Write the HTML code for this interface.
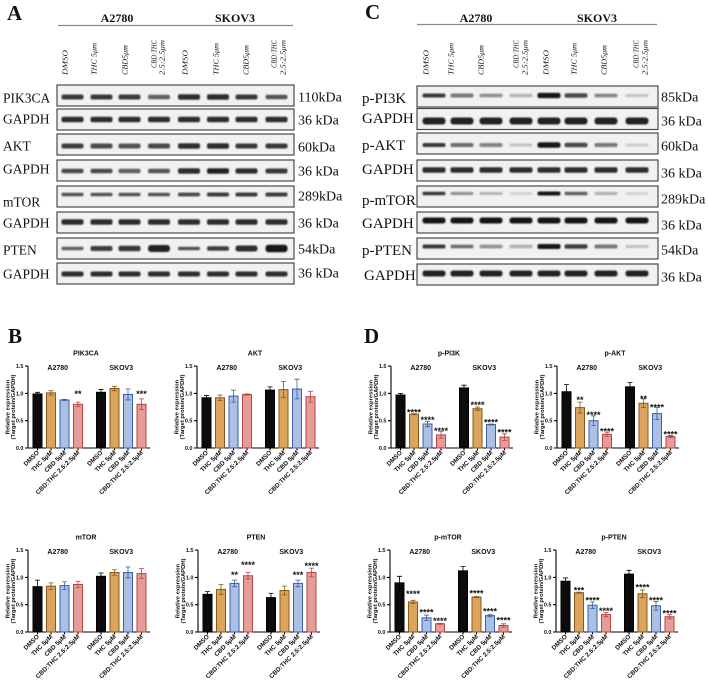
<!DOCTYPE html>
<html><head><meta charset="utf-8">
<style>
html,body{margin:0;padding:0;background:#fff}
svg{display:block}
svg text{font-family:"Liberation Sans",Arial,sans-serif;fill:#111}
.pl{font-family:"Liberation Serif",serif !important;font-weight:bold;font-size:21px}
.hd{font-family:"Liberation Serif",serif !important;font-weight:bold;font-size:12px;text-anchor:middle}
.lb{font-family:"Liberation Serif",serif !important;font-size:13.5px}
.lc{font-family:"Liberation Serif",serif !important;font-size:15px}
.kd{font-family:"Liberation Serif",serif !important;font-size:14px}
.ln{font-family:"Liberation Serif",serif !important;font-style:italic;font-size:7px}
.lne{font-family:"Liberation Serif",serif !important;font-style:italic;font-size:7px;text-anchor:end}
.t{font-size:7px;font-weight:bold;text-anchor:middle}
.tk{font-size:5.5px;font-weight:bold;text-anchor:end}
.xl{font-size:6.3px;font-weight:bold;text-anchor:end}
.yl{font-size:5.8px;font-weight:bold;text-anchor:middle}
.st{font-size:9px;font-weight:bold;text-anchor:middle}
.ax{stroke:#000;stroke-width:1.1;fill:none}
.k{fill:#0c0c0c;stroke:#000;stroke-width:1}
.o{fill:#dba45c;stroke:#8a581c;stroke-width:1}
.b{fill:#abc0e4;stroke:#3b5fa2;stroke-width:1}
.r{fill:#e69d9a;stroke:#b84442;stroke-width:1}
.ek{stroke:#000;fill:none;stroke-width:.8}
.eo{stroke:#8a581c;fill:none;stroke-width:.8}
.eb{stroke:#3b5fa2;fill:none;stroke-width:.8}
.er{stroke:#b84442;fill:none;stroke-width:.8}
.box{fill:#f1f1f1;stroke:none}
.bxs{fill:none;stroke:#4a4a4a;stroke-width:1.2}
</style></head>
<body>
<svg width="708" height="683" viewBox="0 0 708 683" xmlns="http://www.w3.org/2000/svg">
<defs>
<filter id="bl" x="-20%" y="-100%" width="140%" height="300%"><feGaussianBlur stdDeviation="0.9"/></filter>
</defs>

<!-- ===== Panel A ===== -->
<text class="pl" x="7" y="20">A</text>
<text class="hd" x="117" y="22">A2780</text>
<text class="hd" x="235" y="22">SKOV3</text>
<path d="M58,25.5H293" stroke="#888" stroke-width="1.2"/>
<text class="ln" transform="translate(67.5,75) rotate(-90)" textLength="25" lengthAdjust="spacingAndGlyphs">DMSO</text>
<text class="ln" transform="translate(96.5,75) rotate(-90)" textLength="32" lengthAdjust="spacingAndGlyphs">THC 5μm</text>
<text class="ln" transform="translate(127.5,75) rotate(-90)" textLength="30" lengthAdjust="spacingAndGlyphs">CBD5μm</text>
<text class="lne" transform="translate(156.5,40) rotate(-90)" textLength="28" lengthAdjust="spacingAndGlyphs">CBD:THC</text>
<text class="lne" transform="translate(164.5,40) rotate(-90)" textLength="35" lengthAdjust="spacingAndGlyphs">2.5:2.5μm</text>
<text class="ln" transform="translate(187.5,75) rotate(-90)" textLength="25" lengthAdjust="spacingAndGlyphs">DMSO</text>
<text class="ln" transform="translate(218.5,75) rotate(-90)" textLength="32" lengthAdjust="spacingAndGlyphs">THC 5μm</text>
<text class="ln" transform="translate(248.5,75) rotate(-90)" textLength="30" lengthAdjust="spacingAndGlyphs">CBD5μm</text>
<text class="lne" transform="translate(276.5,40) rotate(-90)" textLength="28" lengthAdjust="spacingAndGlyphs">CBD:THC</text>
<text class="lne" transform="translate(285.5,40) rotate(-90)" textLength="35" lengthAdjust="spacingAndGlyphs">2.5:2.5μm</text>

<g class="box">
<rect x="57" y="85" width="237" height="21"/><rect x="57" y="109" width="237" height="21"/>
<rect x="57" y="134" width="237" height="21"/><rect x="57" y="160" width="237" height="21"/>
<rect x="57" y="186" width="237" height="21"/><rect x="57" y="212" width="237" height="21"/>
<rect x="57" y="238" width="237" height="21"/><rect x="57" y="263" width="237" height="21"/>
</g>
<g filter="url(#bl)" fill="#141414">
<g transform="translate(0,97)">
<rect x="61.5" y="-2.5" width="22" height="5" rx="2" opacity=".85"/><rect x="90.5" y="-2.5" width="22" height="5" rx="2" opacity=".85"/><rect x="118.5" y="-2.5" width="22" height="5" rx="2" opacity=".8"/><rect x="148" y="-2.3" width="22" height="4.6" rx="2" opacity=".65"/><rect x="178" y="-2.7" width="22" height="5.4" rx="2" opacity=".9"/><rect x="207" y="-2.7" width="22" height="5.4" rx="2" opacity=".9"/><rect x="235.5" y="-2.5" width="22" height="5" rx="2" opacity=".85"/><rect x="265.5" y="-2.2" width="22" height="4.4" rx="2" opacity=".7"/>
</g>
<g transform="translate(0,119.5)">
<rect x="61.5" y="-2.8" width="22" height="5.6" rx="2" opacity=".9"/><rect x="90.5" y="-2.8" width="22" height="5.6" rx="2" opacity=".9"/><rect x="118.5" y="-2.8" width="22" height="5.6" rx="2" opacity=".9"/><rect x="148" y="-2.8" width="22" height="5.6" rx="2" opacity=".9"/><rect x="178" y="-2.8" width="22" height="5.6" rx="2" opacity=".9"/><rect x="207" y="-2.8" width="22" height="5.6" rx="2" opacity=".9"/><rect x="235.5" y="-2.8" width="22" height="5.6" rx="2" opacity=".9"/><rect x="265.5" y="-2.8" width="22" height="5.6" rx="2" opacity=".9"/>
</g>
<g transform="translate(0,146)">
<rect x="61.5" y="-2.5" width="22" height="5" rx="2" opacity=".8"/><rect x="90.5" y="-2.5" width="22" height="5" rx="2" opacity=".75"/><rect x="118.5" y="-2.5" width="22" height="5" rx="2" opacity=".7"/><rect x="148" y="-2.5" width="22" height="5" rx="2" opacity=".75"/><rect x="178" y="-2.7" width="22" height="5.4" rx="2" opacity=".9"/><rect x="207" y="-2.7" width="22" height="5.4" rx="2" opacity=".9"/><rect x="235.5" y="-2.5" width="22" height="5" rx="2" opacity=".85"/><rect x="265.5" y="-2.5" width="22" height="5" rx="2" opacity=".85"/>
</g>
<g transform="translate(0,171)">
<rect x="61.5" y="-2.3" width="22" height="4.6" rx="2" opacity=".75"/><rect x="90.5" y="-2.3" width="22" height="4.6" rx="2" opacity=".75"/><rect x="118.5" y="-2.2" width="22" height="4.4" rx="2" opacity=".65"/><rect x="148" y="-2.3" width="22" height="4.6" rx="2" opacity=".7"/><rect x="178" y="-2.8" width="22" height="5.6" rx="2" opacity=".9"/><rect x="207" y="-2.8" width="22" height="5.6" rx="2" opacity=".95"/><rect x="235.5" y="-2.6" width="22" height="5.2" rx="2" opacity=".9"/><rect x="265.5" y="-2.5" width="22" height="5" rx="2" opacity=".85"/>
</g>
<g transform="translate(0,194.5)">
<rect x="61.5" y="-1.8" width="22" height="3.6" rx="1.5" opacity=".7"/><rect x="90.5" y="-1.8" width="22" height="3.6" rx="1.5" opacity=".7"/><rect x="118.5" y="-1.8" width="22" height="3.6" rx="1.5" opacity=".7"/><rect x="148" y="-1.8" width="22" height="3.6" rx="1.5" opacity=".7"/><rect x="178" y="-1.9" width="22" height="3.8" rx="1.5" opacity=".75"/><rect x="207" y="-2" width="22" height="4" rx="1.5" opacity=".8"/><rect x="235.5" y="-2" width="22" height="4" rx="1.5" opacity=".8"/><rect x="265.5" y="-2" width="22" height="4" rx="1.5" opacity=".8"/>
</g>
<g transform="translate(0,222)">
<rect x="61.5" y="-2.8" width="22" height="5.6" rx="2" opacity=".9"/><rect x="90.5" y="-2.8" width="22" height="5.6" rx="2" opacity=".9"/><rect x="118.5" y="-2.8" width="22" height="5.6" rx="2" opacity=".9"/><rect x="148" y="-2.8" width="22" height="5.6" rx="2" opacity=".9"/><rect x="178" y="-2.8" width="22" height="5.6" rx="2" opacity=".9"/><rect x="207" y="-2.8" width="22" height="5.6" rx="2" opacity=".9"/><rect x="235.5" y="-2.8" width="22" height="5.6" rx="2" opacity=".9"/><rect x="265.5" y="-2.8" width="22" height="5.6" rx="2" opacity=".9"/>
</g>
<g transform="translate(0,248.5)">
<rect x="61.5" y="-1.8" width="22" height="3.6" rx="1.5" opacity=".65"/><rect x="90.5" y="-2.5" width="22" height="5" rx="2" opacity=".8"/><rect x="118.5" y="-2.8" width="22" height="5.6" rx="2" opacity=".85"/><rect x="148" y="-3.5" width="22" height="7" rx="3" opacity=".95"/><rect x="178" y="-1.8" width="22" height="3.6" rx="1.5" opacity=".7"/><rect x="207" y="-2.3" width="22" height="4.6" rx="2" opacity=".8"/><rect x="235.5" y="-3" width="22" height="6" rx="2.5" opacity=".9"/><rect x="265.5" y="-3.8" width="22" height="7.6" rx="3" opacity="1"/>
</g>
<g transform="translate(0,274)">
<rect x="61.5" y="-2.5" width="22" height="5" rx="2" opacity=".9"/><rect x="90.5" y="-2.5" width="22" height="5" rx="2" opacity=".9"/><rect x="118.5" y="-2.5" width="22" height="5" rx="2" opacity=".9"/><rect x="148" y="-2.5" width="22" height="5" rx="2" opacity=".9"/><rect x="178" y="-2.5" width="22" height="5" rx="2" opacity=".9"/><rect x="207" y="-2.5" width="22" height="5" rx="2" opacity=".9"/><rect x="235.5" y="-2.5" width="22" height="5" rx="2" opacity=".9"/><rect x="265.5" y="-2.5" width="22" height="5" rx="2" opacity=".9"/>
</g>
</g>
<g class="bxs">
<rect x="57" y="85" width="237" height="21"/><rect x="57" y="109" width="237" height="21"/>
<rect x="57" y="134" width="237" height="21"/><rect x="57" y="160" width="237" height="21"/>
<rect x="57" y="186" width="237" height="21"/><rect x="57" y="212" width="237" height="21"/>
<rect x="57" y="238" width="237" height="21"/><rect x="57" y="263" width="237" height="21"/>
</g>
<text class="lb" x="3" y="102.5">PIK3CA</text>
<text class="lb" x="3" y="123.5">GAPDH</text>
<text class="lb" x="3" y="150.5">AKT</text>
<text class="lb" x="3" y="173.5">GAPDH</text>
<text class="lb" x="3" y="206.5">mTOR</text>
<text class="lb" x="3" y="227.5">GAPDH</text>
<text class="lb" x="3" y="254.5">PTEN</text>
<text class="lb" x="3" y="278.5">GAPDH</text>
<text class="kd" x="298" y="101.5">110kDa</text>
<text class="kd" x="298" y="124.5">36 kDa</text>
<text class="kd" x="298" y="151.5">60kDa</text>
<text class="kd" x="298" y="175.5">36 kDa</text>
<text class="kd" x="298" y="200.5">289kDa</text>
<text class="kd" x="298" y="227.5">36 kDa</text>
<text class="kd" x="298" y="253.5">54kDa</text>
<text class="kd" x="298" y="277.5">36 kDa</text>

<!-- ===== Panel C ===== -->
<text class="pl" x="365" y="19">C</text>
<text class="hd" x="476" y="22">A2780</text>
<text class="hd" x="597" y="22">SKOV3</text>
<path d="M417,24.5H657" stroke="#888" stroke-width="1.2"/>
<text class="ln" transform="translate(428.5,75) rotate(-90)" textLength="25" lengthAdjust="spacingAndGlyphs">DMSO</text>
<text class="ln" transform="translate(453.5,75) rotate(-90)" textLength="32" lengthAdjust="spacingAndGlyphs">THC 5μm</text>
<text class="ln" transform="translate(483.5,75) rotate(-90)" textLength="30" lengthAdjust="spacingAndGlyphs">CBD5μm</text>
<text class="lne" transform="translate(518.5,40) rotate(-90)" textLength="28" lengthAdjust="spacingAndGlyphs">CBD:THC</text>
<text class="lne" transform="translate(527.5,40) rotate(-90)" textLength="35" lengthAdjust="spacingAndGlyphs">2.5:2.5μm</text>
<text class="ln" transform="translate(548.5,75) rotate(-90)" textLength="25" lengthAdjust="spacingAndGlyphs">DMSO</text>
<text class="ln" transform="translate(576.5,75) rotate(-90)" textLength="32" lengthAdjust="spacingAndGlyphs">THC 5μm</text>
<text class="ln" transform="translate(606.5,75) rotate(-90)" textLength="30" lengthAdjust="spacingAndGlyphs">CBD5μm</text>
<text class="lne" transform="translate(638.5,40) rotate(-90)" textLength="28" lengthAdjust="spacingAndGlyphs">CBD:THC</text>
<text class="lne" transform="translate(647.5,40) rotate(-90)" textLength="35" lengthAdjust="spacingAndGlyphs">2.5:2.5μm</text>

<g class="box">
<rect x="417" y="86" width="241" height="21"/><rect x="417" y="108.5" width="241" height="21"/>
<rect x="417" y="133" width="241" height="21"/><rect x="417" y="160" width="241" height="21"/>
<rect x="417" y="186" width="241" height="21"/><rect x="417" y="212" width="241" height="21"/>
<rect x="417" y="238" width="241" height="21"/><rect x="417" y="264" width="241" height="21"/>
</g>
<g filter="url(#bl)" fill="#141414">
<g transform="translate(0,95.5)">
<rect x="422.5" y="-2" width="23" height="4" rx="1.8" opacity=".85"/><rect x="450.5" y="-2" width="23" height="4" rx="1.8" opacity=".55"/><rect x="479.5" y="-1.8" width="23" height="3.6" rx="1.5" opacity=".45"/><rect x="509.5" y="-1.8" width="23" height="3.6" rx="1.5" opacity=".25"/><rect x="537.5" y="-2.6" width="23" height="5.2" rx="2" opacity="1"/><rect x="564.5" y="-2.3" width="23" height="4.6" rx="2" opacity=".75"/><rect x="594.5" y="-1.8" width="23" height="3.6" rx="1.5" opacity=".5"/><rect x="625.5" y="-1.5" width="23" height="3" rx="1.5" opacity=".2"/>
</g>
<g transform="translate(0,121)">
<rect x="422.5" y="-3.5" width="23" height="7" rx="3" opacity=".95"/><rect x="450.5" y="-3.5" width="23" height="7" rx="3" opacity=".95"/><rect x="479.5" y="-3.5" width="23" height="7" rx="3" opacity=".95"/><rect x="509.5" y="-3.5" width="23" height="7" rx="3" opacity=".95"/><rect x="537.5" y="-3.5" width="23" height="7" rx="3" opacity=".95"/><rect x="564.5" y="-3.5" width="23" height="7" rx="3" opacity=".95"/><rect x="594.5" y="-3.5" width="23" height="7" rx="3" opacity=".95"/><rect x="625.5" y="-3.5" width="23" height="7" rx="3" opacity=".95"/>
</g>
<g transform="translate(0,145)">
<rect x="422.5" y="-2" width="23" height="4" rx="1.8" opacity=".85"/><rect x="450.5" y="-2" width="23" height="4" rx="1.8" opacity=".6"/><rect x="479.5" y="-2" width="23" height="4" rx="1.8" opacity=".5"/><rect x="509.5" y="-1.5" width="23" height="3" rx="1.5" opacity=".2"/><rect x="537.5" y="-2.8" width="23" height="5.6" rx="2.2" opacity="1"/><rect x="564.5" y="-2.3" width="23" height="4.6" rx="2" opacity=".75"/><rect x="594.5" y="-2" width="23" height="4" rx="1.8" opacity=".55"/><rect x="625.5" y="-1.5" width="23" height="3" rx="1.5" opacity=".15"/>
</g>
<g transform="translate(0,170)">
<rect x="422.5" y="-2.8" width="23" height="5.6" rx="2" opacity=".9"/><rect x="450.5" y="-2.8" width="23" height="5.6" rx="2" opacity=".9"/><rect x="479.5" y="-2.8" width="23" height="5.6" rx="2" opacity=".9"/><rect x="509.5" y="-2.8" width="23" height="5.6" rx="2" opacity=".9"/><rect x="537.5" y="-2.8" width="23" height="5.6" rx="2" opacity=".9"/><rect x="564.5" y="-2.8" width="23" height="5.6" rx="2" opacity=".9"/><rect x="594.5" y="-2.8" width="23" height="5.6" rx="2" opacity=".9"/><rect x="625.5" y="-2.8" width="23" height="5.6" rx="2" opacity=".9"/>
</g>
<g transform="translate(0,193.5)">
<rect x="422.5" y="-1.8" width="23" height="3.6" rx="1.5" opacity=".85"/><rect x="450.5" y="-1.5" width="23" height="3" rx="1.5" opacity=".45"/><rect x="479.5" y="-1.5" width="23" height="3" rx="1.5" opacity=".25"/><rect x="509.5" y="-1.5" width="23" height="3" rx="1.5" opacity=".12"/><rect x="537.5" y="-2" width="23" height="4" rx="1.8" opacity="1"/><rect x="564.5" y="-1.8" width="23" height="3.6" rx="1.5" opacity=".65"/><rect x="594.5" y="-1.5" width="23" height="3" rx="1.5" opacity=".3"/><rect x="625.5" y="-1.5" width="23" height="3" rx="1.5" opacity=".12"/>
</g>
<g transform="translate(0,220.5)">
<rect x="422.5" y="-3" width="23" height="6" rx="2.5" opacity="1"/><rect x="450.5" y="-3" width="23" height="6" rx="2.5" opacity="1"/><rect x="479.5" y="-3" width="23" height="6" rx="2.5" opacity="1"/><rect x="509.5" y="-3" width="23" height="6" rx="2.5" opacity="1"/><rect x="537.5" y="-3" width="23" height="6" rx="2.5" opacity="1"/><rect x="564.5" y="-3" width="23" height="6" rx="2.5" opacity="1"/><rect x="594.5" y="-3" width="23" height="6" rx="2.5" opacity="1"/><rect x="625.5" y="-3" width="23" height="6" rx="2.5" opacity="1"/>
</g>
<g transform="translate(0,246.5)">
<rect x="422.5" y="-2" width="23" height="4" rx="1.8" opacity=".85"/><rect x="450.5" y="-1.8" width="23" height="3.6" rx="1.5" opacity=".6"/><rect x="479.5" y="-1.8" width="23" height="3.6" rx="1.5" opacity=".45"/><rect x="509.5" y="-1.8" width="23" height="3.6" rx="1.5" opacity=".3"/><rect x="537.5" y="-2.5" width="23" height="5" rx="2" opacity="1"/><rect x="564.5" y="-2.3" width="23" height="4.6" rx="2" opacity=".8"/><rect x="594.5" y="-2" width="23" height="4" rx="1.8" opacity=".55"/><rect x="625.5" y="-1.5" width="23" height="3" rx="1.5" opacity=".2"/>
</g>
<g transform="translate(0,273.5)">
<rect x="422.5" y="-3" width="23" height="6" rx="2.5" opacity=".95"/><rect x="450.5" y="-3" width="23" height="6" rx="2.5" opacity=".95"/><rect x="479.5" y="-3" width="23" height="6" rx="2.5" opacity=".95"/><rect x="509.5" y="-3" width="23" height="6" rx="2.5" opacity=".95"/><rect x="537.5" y="-3" width="23" height="6" rx="2.5" opacity=".95"/><rect x="564.5" y="-3" width="23" height="6" rx="2.5" opacity=".95"/><rect x="594.5" y="-3" width="23" height="6" rx="2.5" opacity=".95"/><rect x="625.5" y="-3" width="23" height="6" rx="2.5" opacity=".95"/>
</g>
</g>
<g class="bxs">
<rect x="417" y="86" width="241" height="21"/><rect x="417" y="108.5" width="241" height="21"/>
<rect x="417" y="133" width="241" height="21"/><rect x="417" y="160" width="241" height="21"/>
<rect x="417" y="186" width="241" height="21"/><rect x="417" y="212" width="241" height="21"/>
<rect x="417" y="238" width="241" height="21"/><rect x="417" y="264" width="241" height="21"/>
</g>
<text class="lc" x="362" y="103">p-PI3K</text>
<text class="lc" x="362" y="123">GAPDH</text>
<text class="lc" x="362" y="150">p-AKT</text>
<text class="lc" x="362" y="174">GAPDH</text>
<text class="lc" x="362" y="205">p-mTOR</text>
<text class="lc" x="362" y="228">GAPDH</text>
<text class="lc" x="362" y="255">p-PTEN</text>
<text class="lc" x="364" y="280">GAPDH</text>
<text class="kd" x="661" y="101.6">85kDa</text>
<text class="kd" x="661" y="125.6">36 kDa</text>
<text class="kd" x="661" y="150.6">60kDa</text>
<text class="kd" x="661" y="177.6">36 kDa</text>
<text class="kd" x="661" y="203.6">289kDa</text>
<text class="kd" x="661" y="229.6">36 kDa</text>
<text class="kd" x="661" y="254.6">54kDa</text>
<text class="kd" x="661" y="281.6">36 kDa</text>

<!-- ===== Panel letters B / D ===== -->
<text class="pl" x="8" y="343">B</text>
<text class="pl" x="364" y="343">D</text>

<!-- ===== Chart: PIK3CA ===== -->
<g transform="translate(28,448)">
<text class="t" x="58" y="-92.5">PIK3CA</text>
<text class="t" x="29.75" y="-78">A2780</text>
<text class="t" x="93.25" y="-78">SKOV3</text>
<text class="yl" transform="translate(-18.5,-41) rotate(-90)">Relative expression</text>
<text class="yl" transform="translate(-13,-41) rotate(-90)">(Target protein/GAPDH)</text>
<text class="tk" x="-4.5" y="2">0.0</text><text class="tk" x="-4.5" y="-25.3">0.5</text><text class="tk" x="-4.5" y="-52.6">1.0</text><text class="tk" x="-4.5" y="-79.9">1.5</text>
<path class="ax" d="M0,-81.9V0H122M-3,0H0M-3,-27.3H0M-3,-54.6H0M-3,-81.9H0M9.5,0v2.5M23,0v2.5M36.5,0v2.5M50,0v2.5M73,0v2.5M86.5,0v2.5M100,0v2.5M113.5,0v2.5"/>
<rect class="k" x="5" y="-54.05" width="9" height="54.05"/>
<rect class="o" x="18.5" y="-55.15" width="9" height="55.15"/>
<rect class="b" x="32" y="-48.05" width="9" height="48.05"/>
<rect class="r" x="45.5" y="-43.68" width="9" height="43.68"/>
<rect class="k" x="68.5" y="-55.69" width="9" height="55.69"/>
<rect class="o" x="82" y="-59.51" width="9" height="59.51"/>
<rect class="b" x="95.5" y="-53.51" width="9" height="53.51"/>
<rect class="r" x="109" y="-43.68" width="9" height="43.68"/>
<path class="ek" d="M9.5,-52.42V-55.69M7,-55.69h5M73,-52.96V-58.42M70.5,-58.42h5"/>
<path class="eo" d="M23,-52.96V-57.33M20.5,-57.33h5M20.5,-52.96h5M86.5,-57.33V-61.7M84,-61.7h5M84,-57.33h5"/>
<path class="eb" d="M36.5,-47.5V-48.59M34,-48.59h5M34,-47.5h5M100,-48.05V-58.97M97.5,-58.97h5M97.5,-48.05h5"/>
<path class="er" d="M50,-41.5V-45.86M47.5,-45.86h5M47.5,-41.5h5M113.5,-38.22V-49.14M111,-49.14h5M111,-38.22h5"/>
<text class="st" x="50" y="-50.9">**</text>
<text class="st" x="113.5" y="-50.9">***</text>
<text class="xl" transform="translate(11.5,5) rotate(-45)">DMSO</text>
<text class="xl" transform="translate(25,5) rotate(-45)">THC 5μM</text>
<text class="xl" transform="translate(38.5,5) rotate(-45)">CBD 5μM</text>
<text class="xl" transform="translate(52,5) rotate(-45)">CBD:THC 2.5:2.5μM</text>
<text class="xl" transform="translate(75,5) rotate(-45)">DMSO</text>
<text class="xl" transform="translate(88.5,5) rotate(-45)">THC 5μM</text>
<text class="xl" transform="translate(102,5) rotate(-45)">CBD 5μM</text>
<text class="xl" transform="translate(115.5,5) rotate(-45)">CBD:THC 2.5:2.5μM</text>
</g>

<!-- ===== Chart: AKT ===== -->
<g transform="translate(197,448)">
<text class="t" x="58" y="-92.5">AKT</text>
<text class="t" x="29.75" y="-78">A2780</text>
<text class="t" x="93.25" y="-78">SKOV3</text>
<text class="yl" transform="translate(-18.5,-41) rotate(-90)">Relative expression</text>
<text class="yl" transform="translate(-13,-41) rotate(-90)">(Target protein/GAPDH)</text>
<text class="tk" x="-4.5" y="2">0.0</text><text class="tk" x="-4.5" y="-25.3">0.5</text><text class="tk" x="-4.5" y="-52.6">1.0</text><text class="tk" x="-4.5" y="-79.9">1.5</text>
<path class="ax" d="M0,-81.9V0H122M-3,0H0M-3,-27.3H0M-3,-54.6H0M-3,-81.9H0M9.5,0v2.5M23,0v2.5M36.5,0v2.5M50,0v2.5M73,0v2.5M86.5,0v2.5M100,0v2.5M113.5,0v2.5"/>
<rect class="k" x="5" y="-50.23" width="9" height="50.23"/>
<rect class="o" x="18.5" y="-50.23" width="9" height="50.23"/>
<rect class="b" x="32" y="-51.87" width="9" height="51.87"/>
<rect class="r" x="45.5" y="-53.51" width="9" height="53.51"/>
<rect class="k" x="68.5" y="-57.88" width="9" height="57.88"/>
<rect class="o" x="82" y="-58.42" width="9" height="58.42"/>
<rect class="b" x="95.5" y="-58.97" width="9" height="58.97"/>
<rect class="r" x="109" y="-51.32" width="9" height="51.32"/>
<path class="ek" d="M9.5,-48.05V-52.42M7,-52.42h5M73,-54.6V-61.15M70.5,-61.15h5"/>
<path class="eo" d="M23,-47.5V-52.96M20.5,-52.96h5M20.5,-47.5h5M86.5,-50.23V-66.61M84,-66.61h5M84,-50.23h5"/>
<path class="eb" d="M36.5,-45.86V-57.88M34,-57.88h5M34,-45.86h5M100,-49.14V-68.8M97.5,-68.8h5M97.5,-49.14h5"/>
<path class="er" d="M50,-52.96V-54.05M47.5,-54.05h5M47.5,-52.96h5M113.5,-45.86V-56.78M111,-56.78h5M111,-45.86h5"/>
<text class="xl" transform="translate(11.5,5) rotate(-45)">DMSO</text>
<text class="xl" transform="translate(25,5) rotate(-45)">THC 5μM</text>
<text class="xl" transform="translate(38.5,5) rotate(-45)">CBD 5μM</text>
<text class="xl" transform="translate(52,5) rotate(-45)">CBD:THC 2.5:2.5μM</text>
<text class="xl" transform="translate(75,5) rotate(-45)">DMSO</text>
<text class="xl" transform="translate(88.5,5) rotate(-45)">THC 5μM</text>
<text class="xl" transform="translate(102,5) rotate(-45)">CBD 5μM</text>
<text class="xl" transform="translate(115.5,5) rotate(-45)">CBD:THC 2.5:2.5μM</text>
</g>

<!-- ===== Chart: mTOR ===== -->
<g transform="translate(28,632)">
<text class="t" x="58" y="-92.5">mTOR</text>
<text class="t" x="29.75" y="-78">A2780</text>
<text class="t" x="93.25" y="-78">SKOV3</text>
<text class="yl" transform="translate(-18.5,-41) rotate(-90)">Relative expression</text>
<text class="yl" transform="translate(-13,-41) rotate(-90)">(Target protein/GAPDH)</text>
<text class="tk" x="-4.5" y="2">0.0</text><text class="tk" x="-4.5" y="-25.3">0.5</text><text class="tk" x="-4.5" y="-52.6">1.0</text><text class="tk" x="-4.5" y="-79.9">1.5</text>
<path class="ax" d="M0,-81.9V0H122M-3,0H0M-3,-27.3H0M-3,-54.6H0M-3,-81.9H0M9.5,0v2.5M23,0v2.5M36.5,0v2.5M50,0v2.5M73,0v2.5M86.5,0v2.5M100,0v2.5M113.5,0v2.5"/>
<rect class="k" x="5" y="-45.32" width="9" height="45.32"/>
<rect class="o" x="18.5" y="-45.86" width="9" height="45.86"/>
<rect class="b" x="32" y="-46.41" width="9" height="46.41"/>
<rect class="r" x="45.5" y="-47.5" width="9" height="47.5"/>
<rect class="k" x="68.5" y="-55.69" width="9" height="55.69"/>
<rect class="o" x="82" y="-59.51" width="9" height="59.51"/>
<rect class="b" x="95.5" y="-59.51" width="9" height="59.51"/>
<rect class="r" x="109" y="-58.42" width="9" height="58.42"/>
<path class="ek" d="M9.5,-38.77V-51.87M7,-51.87h5M73,-52.42V-58.97M70.5,-58.97h5"/>
<path class="eo" d="M23,-42.59V-49.14M20.5,-49.14h5M20.5,-42.59h5M86.5,-56.78V-62.24M84,-62.24h5M84,-56.78h5"/>
<path class="eb" d="M36.5,-42.59V-50.23M34,-50.23h5M34,-42.59h5M100,-54.05V-64.97M97.5,-64.97h5M97.5,-54.05h5"/>
<path class="er" d="M50,-44.23V-50.78M47.5,-50.78h5M47.5,-44.23h5M113.5,-53.51V-63.34M111,-63.34h5M111,-53.51h5"/>
<text class="xl" transform="translate(11.5,5) rotate(-45)">DMSO</text>
<text class="xl" transform="translate(25,5) rotate(-45)">THC 5μM</text>
<text class="xl" transform="translate(38.5,5) rotate(-45)">CBD 5μM</text>
<text class="xl" transform="translate(52,5) rotate(-45)">CBD:THC 2.5:2.5μM</text>
<text class="xl" transform="translate(75,5) rotate(-45)">DMSO</text>
<text class="xl" transform="translate(88.5,5) rotate(-45)">THC 5μM</text>
<text class="xl" transform="translate(102,5) rotate(-45)">CBD 5μM</text>
<text class="xl" transform="translate(115.5,5) rotate(-45)">CBD:THC 2.5:2.5μM</text>
</g>

<!-- ===== Chart: PTEN ===== -->
<g transform="translate(198,632)">
<text class="t" x="58" y="-92.5">PTEN</text>
<text class="t" x="29.75" y="-78">A2780</text>
<text class="t" x="93.25" y="-78">SKOV3</text>
<text class="yl" transform="translate(-18.5,-41) rotate(-90)">Relative expression</text>
<text class="yl" transform="translate(-13,-41) rotate(-90)">(Target protein/GAPDH)</text>
<text class="tk" x="-4.5" y="2">0.0</text><text class="tk" x="-4.5" y="-25.3">0.5</text><text class="tk" x="-4.5" y="-52.6">1.0</text><text class="tk" x="-4.5" y="-79.9">1.5</text>
<path class="ax" d="M0,-81.9V0H122M-3,0H0M-3,-27.3H0M-3,-54.6H0M-3,-81.9H0M9.5,0v2.5M23,0v2.5M36.5,0v2.5M50,0v2.5M73,0v2.5M86.5,0v2.5M100,0v2.5M113.5,0v2.5"/>
<rect class="k" x="5" y="-37.67" width="9" height="37.67"/>
<rect class="o" x="18.5" y="-42.59" width="9" height="42.59"/>
<rect class="b" x="32" y="-48.59" width="9" height="48.59"/>
<rect class="r" x="45.5" y="-56.24" width="9" height="56.24"/>
<rect class="k" x="68.5" y="-34.4" width="9" height="34.4"/>
<rect class="o" x="82" y="-41.5" width="9" height="41.5"/>
<rect class="b" x="95.5" y="-48.59" width="9" height="48.59"/>
<rect class="r" x="109" y="-59.51" width="9" height="59.51"/>
<path class="ek" d="M9.5,-34.94V-40.4M7,-40.4h5M73,-30.03V-38.77M70.5,-38.77h5"/>
<path class="eo" d="M23,-37.67V-47.5M20.5,-47.5h5M20.5,-37.67h5M86.5,-37.13V-45.86M84,-45.86h5M84,-37.13h5"/>
<path class="eb" d="M36.5,-45.32V-51.87M34,-51.87h5M34,-45.32h5M100,-45.32V-51.87M97.5,-51.87h5M97.5,-45.32h5"/>
<path class="er" d="M50,-52.96V-59.51M47.5,-59.51h5M47.5,-52.96h5M113.5,-55.15V-63.88M111,-63.88h5M111,-55.15h5"/>
<text class="st" x="36.5" y="-53.9">**</text>
<text class="st" x="50" y="-63.9">****</text>
<text class="st" x="100" y="-53.9">***</text>
<text class="st" x="113.5" y="-62.9">****</text>
<text class="xl" transform="translate(11.5,5) rotate(-45)">DMSO</text>
<text class="xl" transform="translate(25,5) rotate(-45)">THC 5μM</text>
<text class="xl" transform="translate(38.5,5) rotate(-45)">CBD 5μM</text>
<text class="xl" transform="translate(52,5) rotate(-45)">CBD:THC 2.5:2.5μM</text>
<text class="xl" transform="translate(75,5) rotate(-45)">DMSO</text>
<text class="xl" transform="translate(88.5,5) rotate(-45)">THC 5μM</text>
<text class="xl" transform="translate(102,5) rotate(-45)">CBD 5μM</text>
<text class="xl" transform="translate(115.5,5) rotate(-45)">CBD:THC 2.5:2.5μM</text>
</g>

<!-- ===== Chart: p-PI3K ===== -->
<g transform="translate(391,448)">
<text class="t" x="58" y="-92.5">p-PI3K</text>
<text class="t" x="29.75" y="-78">A2780</text>
<text class="t" x="93.25" y="-78">SKOV3</text>
<text class="yl" transform="translate(-18.5,-41) rotate(-90)">Relative expression</text>
<text class="yl" transform="translate(-13,-41) rotate(-90)">(Target protein/GAPDH)</text>
<text class="tk" x="-4.5" y="2">0.0</text><text class="tk" x="-4.5" y="-25.3">0.5</text><text class="tk" x="-4.5" y="-52.6">1.0</text><text class="tk" x="-4.5" y="-79.9">1.5</text>
<path class="ax" d="M0,-81.9V0H122M-3,0H0M-3,-27.3H0M-3,-54.6H0M-3,-81.9H0M9.5,0v2.5M23,0v2.5M36.5,0v2.5M50,0v2.5M73,0v2.5M86.5,0v2.5M100,0v2.5M113.5,0v2.5"/>
<rect class="k" x="5" y="-52.96" width="9" height="52.96"/>
<rect class="o" x="18.5" y="-33.85" width="9" height="33.85"/>
<rect class="b" x="32" y="-24.02" width="9" height="24.02"/>
<rect class="r" x="45.5" y="-13.1" width="9" height="13.1"/>
<rect class="k" x="68.5" y="-60.06" width="9" height="60.06"/>
<rect class="o" x="82" y="-39.31" width="9" height="39.31"/>
<rect class="b" x="95.5" y="-23.48" width="9" height="23.48"/>
<rect class="r" x="109" y="-10.92" width="9" height="10.92"/>
<path class="ek" d="M9.5,-51.32V-54.6M7,-54.6h5M73,-57.33V-62.79M70.5,-62.79h5"/>
<path class="eo" d="M23,-33.31V-34.4M20.5,-34.4h5M20.5,-33.31h5M86.5,-37.67V-40.95M84,-40.95h5M84,-37.67h5"/>
<path class="eb" d="M36.5,-21.29V-26.75M34,-26.75h5M34,-21.29h5M100,-22.93V-24.02M97.5,-24.02h5M97.5,-22.93h5"/>
<path class="er" d="M50,-9.83V-16.38M47.5,-16.38h5M47.5,-9.83h5M113.5,-7.64V-14.2M111,-14.2h5M111,-7.64h5"/>
<text class="st" x="23" y="-32.4">****</text>
<text class="st" x="36.5" y="-25">****</text>
<text class="st" x="50" y="-14">****</text>
<text class="st" x="86.5" y="-40">****</text>
<text class="st" x="100" y="-22.4">****</text>
<text class="st" x="113.5" y="-12.4">****</text>
<text class="xl" transform="translate(11.5,5) rotate(-45)">DMSO</text>
<text class="xl" transform="translate(25,5) rotate(-45)">THC 5μM</text>
<text class="xl" transform="translate(38.5,5) rotate(-45)">CBD 5μM</text>
<text class="xl" transform="translate(52,5) rotate(-45)">CBD:THC 2.5:2.5μM</text>
<text class="xl" transform="translate(75,5) rotate(-45)">DMSO</text>
<text class="xl" transform="translate(88.5,5) rotate(-45)">THC 5μM</text>
<text class="xl" transform="translate(102,5) rotate(-45)">CBD 5μM</text>
<text class="xl" transform="translate(115.5,5) rotate(-45)">CBD:THC 2.5:2.5μM</text>
</g>

<!-- ===== Chart: p-AKT ===== -->
<g transform="translate(557,448)">
<text class="t" x="58" y="-92.5">p-AKT</text>
<text class="t" x="29.75" y="-78">A2780</text>
<text class="t" x="93.25" y="-78">SKOV3</text>
<text class="yl" transform="translate(-18.5,-41) rotate(-90)">Relative expression</text>
<text class="yl" transform="translate(-13,-41) rotate(-90)">(Target protein/GAPDH)</text>
<text class="tk" x="-4.5" y="2">0.0</text><text class="tk" x="-4.5" y="-25.3">0.5</text><text class="tk" x="-4.5" y="-52.6">1.0</text><text class="tk" x="-4.5" y="-79.9">1.5</text>
<path class="ax" d="M0,-81.9V0H122M-3,0H0M-3,-27.3H0M-3,-54.6H0M-3,-81.9H0M9.5,0v2.5M23,0v2.5M36.5,0v2.5M50,0v2.5M73,0v2.5M86.5,0v2.5M100,0v2.5M113.5,0v2.5"/>
<rect class="k" x="5" y="-56.24" width="9" height="56.24"/>
<rect class="o" x="18.5" y="-40.4" width="9" height="40.4"/>
<rect class="b" x="32" y="-27.3" width="9" height="27.3"/>
<rect class="r" x="45.5" y="-13.65" width="9" height="13.65"/>
<rect class="k" x="68.5" y="-61.15" width="9" height="61.15"/>
<rect class="o" x="82" y="-44.77" width="9" height="44.77"/>
<rect class="b" x="95.5" y="-34.4" width="9" height="34.4"/>
<rect class="r" x="109" y="-11.47" width="9" height="11.47"/>
<path class="ek" d="M9.5,-49.14V-63.34M7,-63.34h5M73,-56.78V-65.52M70.5,-65.52h5"/>
<path class="eo" d="M23,-34.94V-45.86M20.5,-45.86h5M20.5,-34.94h5M86.5,-40.4V-49.14M84,-49.14h5M84,-40.4h5"/>
<path class="eb" d="M36.5,-22.39V-32.21M34,-32.21h5M34,-22.39h5M100,-28.39V-40.4M97.5,-40.4h5M97.5,-28.39h5"/>
<path class="er" d="M50,-11.47V-15.83M47.5,-15.83h5M47.5,-11.47h5M113.5,-10.37V-12.56M111,-12.56h5M111,-10.37h5"/>
<text class="st" x="23" y="-45">**</text>
<text class="st" x="36.5" y="-30">****</text>
<text class="st" x="50" y="-13.4">****</text>
<text class="st" x="86.5" y="-46">**</text>
<text class="st" x="100" y="-37.7">****</text>
<text class="st" x="113.5" y="-10.7">****</text>
<text class="xl" transform="translate(11.5,5) rotate(-45)">DMSO</text>
<text class="xl" transform="translate(25,5) rotate(-45)">THC 5μM</text>
<text class="xl" transform="translate(38.5,5) rotate(-45)">CBD 5μM</text>
<text class="xl" transform="translate(52,5) rotate(-45)">CBD:THC 2.5:2.5μM</text>
<text class="xl" transform="translate(75,5) rotate(-45)">DMSO</text>
<text class="xl" transform="translate(88.5,5) rotate(-45)">THC 5μM</text>
<text class="xl" transform="translate(102,5) rotate(-45)">CBD 5μM</text>
<text class="xl" transform="translate(115.5,5) rotate(-45)">CBD:THC 2.5:2.5μM</text>
</g>

<!-- ===== Chart: p-mTOR ===== -->
<g transform="translate(390,632)">
<text class="t" x="58" y="-92.5">p-mTOR</text>
<text class="t" x="29.75" y="-78">A2780</text>
<text class="t" x="93.25" y="-78">SKOV3</text>
<text class="yl" transform="translate(-18.5,-41) rotate(-90)">Relative expression</text>
<text class="yl" transform="translate(-13,-41) rotate(-90)">(Target protein/GAPDH)</text>
<text class="tk" x="-4.5" y="2">0.0</text><text class="tk" x="-4.5" y="-25.3">0.5</text><text class="tk" x="-4.5" y="-52.6">1.0</text><text class="tk" x="-4.5" y="-79.9">1.5</text>
<path class="ax" d="M0,-81.9V0H122M-3,0H0M-3,-27.3H0M-3,-54.6H0M-3,-81.9H0M9.5,0v2.5M23,0v2.5M36.5,0v2.5M50,0v2.5M73,0v2.5M86.5,0v2.5M100,0v2.5M113.5,0v2.5"/>
<rect class="k" x="5" y="-49.14" width="9" height="49.14"/>
<rect class="o" x="18.5" y="-30.03" width="9" height="30.03"/>
<rect class="b" x="32" y="-14.2" width="9" height="14.2"/>
<rect class="r" x="45.5" y="-8.19" width="9" height="8.19"/>
<rect class="k" x="68.5" y="-61.15" width="9" height="61.15"/>
<rect class="o" x="82" y="-34.94" width="9" height="34.94"/>
<rect class="b" x="95.5" y="-16.38" width="9" height="16.38"/>
<rect class="r" x="109" y="-6.55" width="9" height="6.55"/>
<path class="ek" d="M9.5,-42.59V-55.69M7,-55.69h5M73,-56.78V-65.52M70.5,-65.52h5"/>
<path class="eo" d="M23,-28.39V-31.67M20.5,-31.67h5M20.5,-28.39h5M86.5,-34.4V-35.49M84,-35.49h5M84,-34.4h5"/>
<path class="eb" d="M36.5,-11.47V-16.93M34,-16.93h5M34,-11.47h5M100,-15.29V-17.47M97.5,-17.47h5M97.5,-15.29h5"/>
<path class="er" d="M50,-7.64V-8.74M47.5,-8.74h5M47.5,-7.64h5M113.5,-4.91V-8.19M111,-8.19h5M111,-4.91h5"/>
<text class="st" x="23" y="-35">****</text>
<text class="st" x="36.5" y="-16.7">****</text>
<text class="st" x="50" y="-8">****</text>
<text class="st" x="86.5" y="-35.7">****</text>
<text class="st" x="100" y="-17.4">****</text>
<text class="st" x="113.5" y="-8.4">****</text>
<text class="xl" transform="translate(11.5,5) rotate(-45)">DMSO</text>
<text class="xl" transform="translate(25,5) rotate(-45)">THC 5μM</text>
<text class="xl" transform="translate(38.5,5) rotate(-45)">CBD 5μM</text>
<text class="xl" transform="translate(52,5) rotate(-45)">CBD:THC 2.5:2.5μM</text>
<text class="xl" transform="translate(75,5) rotate(-45)">DMSO</text>
<text class="xl" transform="translate(88.5,5) rotate(-45)">THC 5μM</text>
<text class="xl" transform="translate(102,5) rotate(-45)">CBD 5μM</text>
<text class="xl" transform="translate(115.5,5) rotate(-45)">CBD:THC 2.5:2.5μM</text>
</g>

<!-- ===== Chart: p-PTEN ===== -->
<g transform="translate(556,632)">
<text class="t" x="58" y="-92.5">p-PTEN</text>
<text class="t" x="29.75" y="-78">A2780</text>
<text class="t" x="93.25" y="-78">SKOV3</text>
<text class="yl" transform="translate(-18.5,-41) rotate(-90)">Relative expression</text>
<text class="yl" transform="translate(-13,-41) rotate(-90)">(Target protein/GAPDH)</text>
<text class="tk" x="-4.5" y="2">0.0</text><text class="tk" x="-4.5" y="-25.3">0.5</text><text class="tk" x="-4.5" y="-52.6">1.0</text><text class="tk" x="-4.5" y="-79.9">1.5</text>
<path class="ax" d="M0,-81.9V0H122M-3,0H0M-3,-27.3H0M-3,-54.6H0M-3,-81.9H0M9.5,0v2.5M23,0v2.5M36.5,0v2.5M50,0v2.5M73,0v2.5M86.5,0v2.5M100,0v2.5M113.5,0v2.5"/>
<rect class="k" x="5" y="-50.78" width="9" height="50.78"/>
<rect class="o" x="18.5" y="-39.31" width="9" height="39.31"/>
<rect class="b" x="32" y="-26.75" width="9" height="26.75"/>
<rect class="r" x="45.5" y="-17.47" width="9" height="17.47"/>
<rect class="k" x="68.5" y="-57.88" width="9" height="57.88"/>
<rect class="o" x="82" y="-38.22" width="9" height="38.22"/>
<rect class="b" x="95.5" y="-26.21" width="9" height="26.21"/>
<rect class="r" x="109" y="-15.29" width="9" height="15.29"/>
<path class="ek" d="M9.5,-47.5V-54.05M7,-54.05h5M73,-54.05V-61.7M70.5,-61.7h5"/>
<path class="eo" d="M23,-38.77V-39.86M20.5,-39.86h5M20.5,-38.77h5M86.5,-34.4V-42.04M84,-42.04h5M84,-34.4h5"/>
<path class="eb" d="M36.5,-23.48V-30.03M34,-30.03h5M34,-23.48h5M100,-21.84V-30.58M97.5,-30.58h5M97.5,-21.84h5"/>
<path class="er" d="M50,-15.29V-19.66M47.5,-19.66h5M47.5,-15.29h5M113.5,-13.1V-17.47M111,-17.47h5M111,-13.1h5"/>
<text class="st" x="23" y="-38.4">***</text>
<text class="st" x="36.5" y="-28.4">****</text>
<text class="st" x="50" y="-18">****</text>
<text class="st" x="86.5" y="-41.7">****</text>
<text class="st" x="100" y="-28.4">****</text>
<text class="st" x="113.5" y="-15.7">****</text>
<text class="xl" transform="translate(11.5,5) rotate(-45)">DMSO</text>
<text class="xl" transform="translate(25,5) rotate(-45)">THC 5μM</text>
<text class="xl" transform="translate(38.5,5) rotate(-45)">CBD 5μM</text>
<text class="xl" transform="translate(52,5) rotate(-45)">CBD:THC 2.5:2.5μM</text>
<text class="xl" transform="translate(75,5) rotate(-45)">DMSO</text>
<text class="xl" transform="translate(88.5,5) rotate(-45)">THC 5μM</text>
<text class="xl" transform="translate(102,5) rotate(-45)">CBD 5μM</text>
<text class="xl" transform="translate(115.5,5) rotate(-45)">CBD:THC 2.5:2.5μM</text>
</g>
</svg>
</body></html>
